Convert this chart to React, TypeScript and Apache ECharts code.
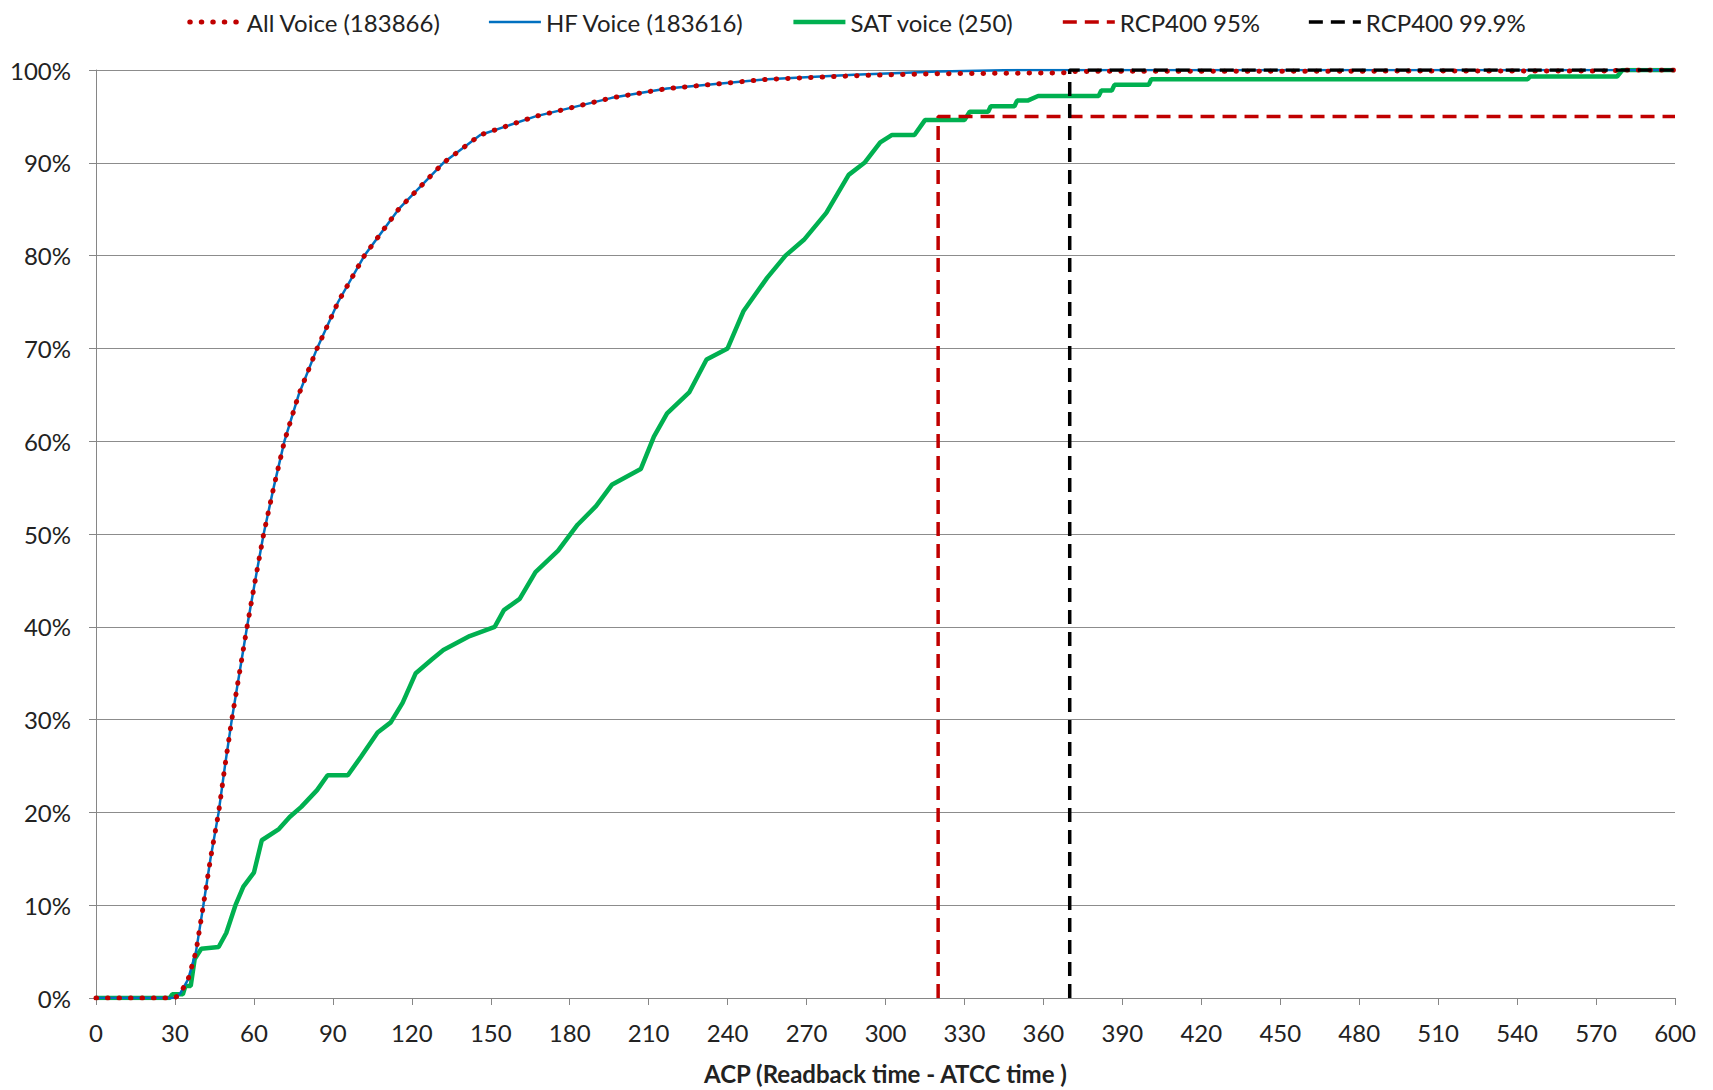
import React, { useEffect, useRef } from "react";
import * as echarts from "echarts";

const xTicks = { min: 0, max: 600, interval: 30 };
const yTicks = { min: 0, max: 100, interval: 10 };

const seriesNames = [
  "All Voice (183866)",
  "HF Voice (183616)",
  "SAT voice (250)",
  "RCP400 95%",
  "RCP400 99.9%",
];

const allVoice: [number, number][] = [
  [0, 0], [30, 0], [32, 0.5], [35, 2], [38, 5], [40.8, 10], [43.5, 15], [46.6, 20],
  [49, 25], [51.6, 30], [54.5, 35], [57.4, 40], [60.5, 45], [63.7, 50], [67.5, 55],
  [71.6, 60], [77, 65], [84, 70], [92, 75], [102, 80], [115, 85], [132, 90], [146, 93],
  [167, 95], [196, 97], [217, 98], [255, 99], [290, 99.4], [320, 99.6], [369, 99.7],
  [372, 99.85], [575, 99.9], [580, 100], [600, 100],
];

const hfVoice: [number, number][] = [
  [0, 0], [30, 0], [32, 0.5], [35, 2], [38, 5], [40.8, 10], [43.5, 15], [46.6, 20],
  [49, 25], [51.6, 30], [54.5, 35], [57.4, 40], [60.5, 45], [63.7, 50], [67.5, 55],
  [71.6, 60], [77, 65], [84, 70], [92, 75], [102, 80], [115, 85], [132, 90], [146, 93],
  [167, 95], [196, 97], [217, 98], [255, 99], [288, 99.5], [320, 99.85], [350, 100],
  [600, 100],
];

const satVoice: [number, number][] = [
  [0, 0], [28, 0], [29, 0.4], [33, 0.4], [34, 1.3], [36, 1.3], [37.5, 4.2], [40, 5.3],
  [46.6, 5.5], [49.5, 7], [53, 10], [56, 12], [60, 13.5], [63, 17], [69.5, 18.2],
  [73.6, 19.5], [78, 20.6], [84, 22.4], [88, 24], [95.7, 24], [100.7, 26], [107, 28.6],
  [112, 29.7], [116.5, 31.8], [121.5, 35], [127.7, 36.5], [132, 37.5], [142, 39],
  [151.5, 40], [155, 41.8], [161, 43], [167, 45.9], [175.6, 48.2], [183, 51], [190, 53],
  [196, 55.3], [207, 57], [212, 60.5], [217, 63], [225.5, 65.3], [232, 68.8], [240, 70],
  [246, 74], [255, 77.6], [262, 80], [269, 81.7], [277.5, 84.6], [286, 88.7], [292, 90],
  [298, 92.2], [302.5, 93], [311, 93], [315, 94.6], [330, 94.6], [332, 95.5], [339, 95.5],
  [340, 96.1], [349, 96.1], [350, 96.7], [354, 96.7], [358, 97.2], [381, 97.2],
  [382, 97.8], [386, 97.8], [387, 98.4], [400, 98.4], [401, 99.0], [544, 99.0],
  [545, 99.3], [578, 99.3], [580, 100], [600, 100],
];

const rcp95: [number, number][] = [[320, 0], [320, 95], [600, 95]];
const rcp999: [number, number][] = [[370, 0], [370, 100], [600, 100]];

const FONT = "Lato, 'Open Sans', sans-serif";
const FS = 24;

export default function App() {
  const ref = useRef<HTMLDivElement>(null);

  useEffect(() => {
    document.body.style.margin = "0";
    if (!ref.current) return;
    const chart = echarts.init(ref.current, undefined, { renderer: "svg" });
    chart.setOption({
      animation: false,
      backgroundColor: "#ffffff",
      textStyle: { fontFamily: FONT },
      legend: {
        top: 5,
        left: "center",
        itemWidth: 52,
        itemHeight: 14,
        itemGap: 47,
        itemStyle: { color: "transparent", borderColor: "transparent", borderWidth: 0, opacity: 0 },
        lineStyle: { width: "inherit", type: "inherit", cap: "inherit" },
        textStyle: { fontSize: FS, color: "#222", fontFamily: FONT },
        data: seriesNames,
      },
      grid: { left: 96, right: 38, top: 70, bottom: 88 },
      xAxis: {
        type: "value",
        min: xTicks.min,
        max: xTicks.max,
        interval: xTicks.interval,
        name: "ACP (Readback time - ATCC time )",
        nameLocation: "middle",
        nameGap: 63,
        nameTextStyle: { fontSize: FS, fontWeight: "bold", color: "#222", fontFamily: FONT },
        axisLine: { show: true, lineStyle: { color: "#868686", width: 1 } },
        axisTick: { show: true, length: 7, lineStyle: { color: "#868686" } },
        axisLabel: { fontSize: FS, color: "#222", margin: 22, fontFamily: FONT },
        splitLine: { show: false },
      },
      yAxis: {
        type: "value",
        min: yTicks.min,
        max: yTicks.max,
        interval: yTicks.interval,
        axisLine: { show: true, lineStyle: { color: "#868686", width: 1 } },
        axisTick: { show: true, length: 7, lineStyle: { color: "#868686" } },
        axisLabel: { fontSize: FS, color: "#222", margin: 25, formatter: "{value}%", fontFamily: FONT },
        splitLine: { show: true, lineStyle: { color: "#8c8c8c", width: 1 } },
      },
      series: [
        {
          name: seriesNames[0],
          type: "line",
          data: allVoice,
          symbol: "none",
          z: 6,
          color: "#C00000",
          lineStyle: { color: "#C00000", width: 5, type: [0.5, 11], cap: "round" },
        },
        {
          name: seriesNames[1],
          type: "line",
          data: hfVoice,
          symbol: "none",
          z: 5,
          color: "#0070C0",
          lineStyle: { color: "#0070C0", width: 2.5 },
        },
        {
          name: seriesNames[2],
          type: "line",
          data: satVoice,
          symbol: "none",
          z: 4,
          color: "#00B050",
          lineStyle: { color: "#00B050", width: 4.5 },
        },
        {
          name: seriesNames[3],
          type: "line",
          data: rcp95,
          symbol: "none",
          z: 7,
          color: "#C00000",
          lineStyle: { color: "#C00000", width: 3.5, type: [14, 8] },
        },
        {
          name: seriesNames[4],
          type: "line",
          data: rcp999,
          symbol: "none",
          z: 8,
          color: "#000000",
          lineStyle: { color: "#000000", width: 3.5, type: [14, 8] },
        },
      ],
    });
    return () => chart.dispose();
  }, []);

  return <div ref={ref} style={{ width: 1713, height: 1090 }} />;
}
